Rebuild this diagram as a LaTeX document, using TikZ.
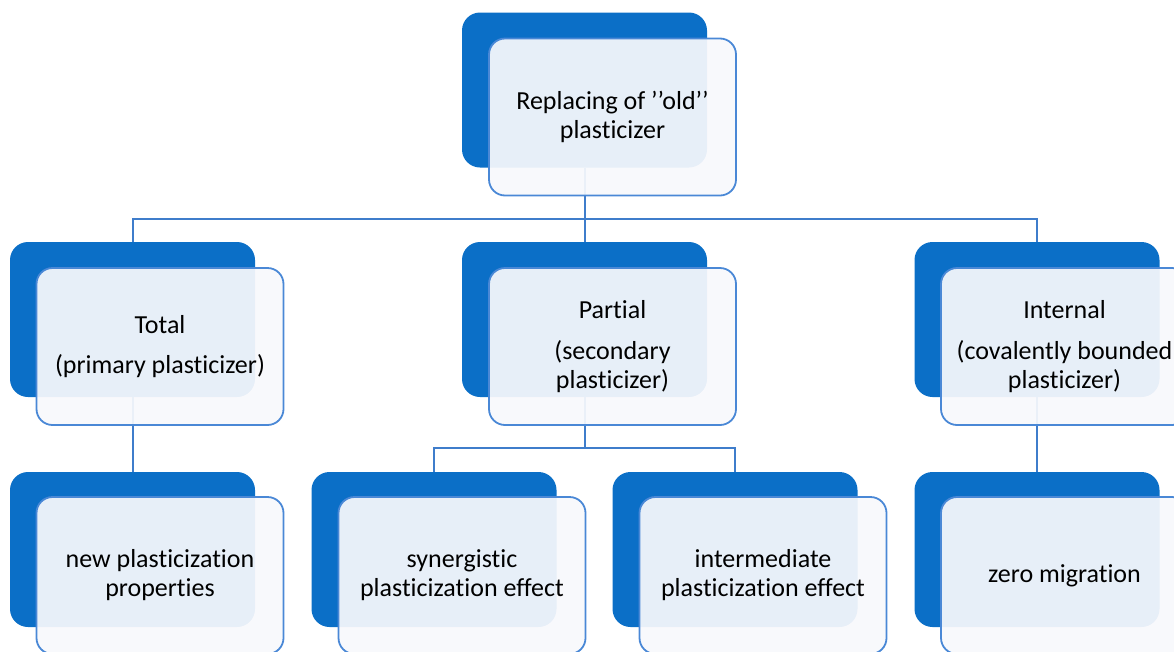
\documentclass[tikz,border=0pt]{standalone}
\usepackage{fontspec}
\setmainfont{Carlito}[Ligatures={NoCommon}]
\usetikzlibrary{calc,backgrounds}
\definecolor{darkb}{HTML}{0B6FC7}
\definecolor{frontc}{HTML}{F8F9FC}
\definecolor{edgec}{HTML}{4A88D6}
\definecolor{connc}{HTML}{3F7DCB}
\tikzset{
 darkbox/.style={fill=darkb, rounded corners=18pt, minimum width=245pt, minimum height=155pt, inner sep=0pt},
 frontbox/.style={fill=frontc, fill opacity=0.93, text opacity=1, draw=edgec, line width=1.8pt, rounded corners=16pt, minimum width=247pt, minimum height=157pt, inner sep=0pt, align=center, font=\fontsize{26}{29}\selectfont, text=black},
 conn/.style={draw=connc, line width=2pt},
}
\begin{document}
\begin{tikzpicture}[x=1pt,y=-1pt]
\useasboundingbox (0,0) rectangle (1174,651);
% row 1
\node[darkbox] (rootB) at (584.5,90) {};
\node[frontbox] (root) at (612.5,117) {Replacing of ’’old’’\\plasticizer};
% row 2
\node[darkbox] (totalB) at (132.5,319.5) {};
\node[frontbox] (total) at (160,346.5) {Total\\[11pt](primary plasticizer)};
\node[darkbox] (partialB) at (584.5,319.5) {};
\node[frontbox] (partial) at (612.5,346.5) {Partial\\[12pt](secondary\\plasticizer)};
\node[darkbox] (internalB) at (1037,319.5) {};
\node[frontbox] (internal) at (1064.5,346.5) {Internal\\[12pt](covalently bounded\\plasticizer)};
% row 3
\node[darkbox] (newB) at (132.5,549.5) {};
\node[frontbox] (new) at (160,575.5) {new plasticization\\properties};
\node[darkbox] (synB) at (434,549.5) {};
\node[frontbox] (syn) at (462,575.5) {synergistic\\plasticization effect};
\node[darkbox] (intB) at (735,549.5) {};
\node[frontbox] (int) at (763,575.5) {intermediate\\plasticization effect};
\node[darkbox] (zeroB) at (1037,549.5) {};
\node[frontbox] (zero) at (1064.5,575.5) {zero migration};
% connectors
\begin{pgfonlayer}{background}
\coordinate (h1) at ($(rootB.south)+(0,51)$);
\coordinate (h2) at ($(partialB.south)+(0,51)$);
\draw[conn] (rootB.south) -- (h1);
\draw[conn] (h1) -| (totalB.north);
\draw[conn] (h1) -- (partialB.north);
\draw[conn] (h1) -| (internalB.north);
\draw[conn] (totalB.south) -- (newB.north);
\draw[conn] (partialB.south) -- (h2);
\draw[conn] (h2) -| (synB.north);
\draw[conn] (h2) -| (intB.north);
\draw[conn] (internalB.south) -- (zeroB.north);
\end{pgfonlayer}
\end{tikzpicture}
\end{document}
